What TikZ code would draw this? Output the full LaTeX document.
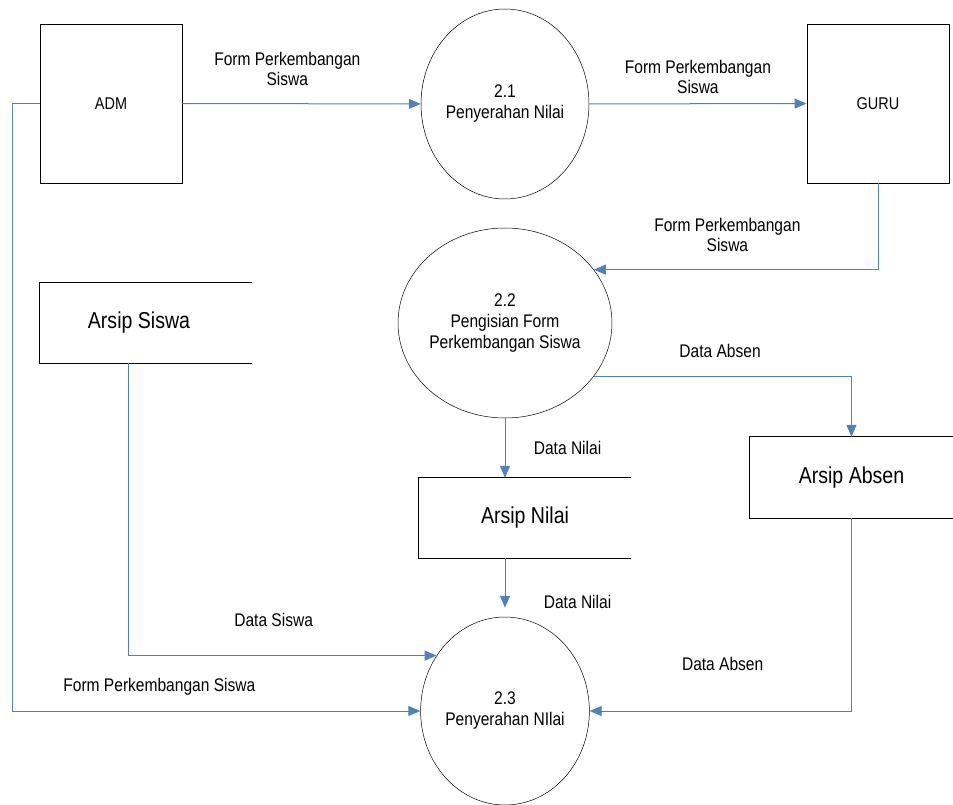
\documentclass[tikz,border=0pt]{standalone}
\usepackage{fontspec}
\setmainfont[FakeStretch=0.85]{Liberation Sans}
\usepackage{tikz}
\usetikzlibrary{calc,arrows.meta,shapes.geometric}
\definecolor{garis}{RGB}{79,129,189}
\tikzset{
  entitas/.style={draw,line width=0.9pt,minimum width=142pt,minimum height=159pt,inner sep=0pt,font=\fontsize{17}{20}\selectfont},
  proses/.style={draw,ellipse,line width=0.5pt,minimum width=168pt,minimum height=190pt,inner sep=0pt,align=center,font=\fontsize{18.3}{21}\selectfont},
  arsip/.style={minimum width=212pt,minimum height=80pt,inner sep=0pt,font=\fontsize{23}{24}\selectfont},
  alir/.style={garis,line width=1pt,-{Triangle[length=12pt,width=10pt]}},
  ket/.style={align=center,text=black,font=\fontsize{18.3}{20}\selectfont},
}
\begin{document}
\begin{tikzpicture}[x=1pt,y=-1pt]
        \useasboundingbox (0,0) rectangle (953,805);

        % entitas luar
        \node[entitas] (adm) at (111,103.5) {ADM};
        \node[entitas] (guru) at (878,103.5) {GURU};

        % proses
        \node[proses] (p21) at (505,104) {2.1\\Penyerahan Nilai};
        \node[proses] (p22) at (505,323) {2.2\\Pengisian Form\\Perkembangan Siswa};
        \node[proses,minimum height=188pt] (p23) at (505,711) {2.3\\Penyerahan NIlai};

        % data store (sisi kanan terbuka)
        \node[arsip] (aSiswa) at (146,323) {\hspace*{-14pt}Arsip Siswa};
        \draw[line width=0.9pt] (aSiswa.north east) -- (aSiswa.north west) -- (aSiswa.south west) -- (aSiswa.south east);
        \node[arsip] (aNilai) at (525,518) {Arsip Nilai};
        \draw[line width=0.9pt] (aNilai.north east) -- (aNilai.north west) -- (aNilai.south west) -- (aNilai.south east);
        \node[arsip,minimum width=203pt,minimum height=81pt] (aAbsen) at (851.5,477.5) {Arsip Absen};
        \draw[line width=0.9pt] (aAbsen.north east) -- (aAbsen.north west) -- (aAbsen.south west) -- (aAbsen.south east);

        % aliran data
        \draw[alir] (adm) -- node[ket,pos=.44,above=14pt] {Form Perkembangan\\Siswa} (p21);
        \draw[alir] (p21) -- node[ket,above=6pt] {Form Perkembangan\\Siswa} (guru);
        \draw[alir] (guru.south) |- node[ket,pos=.765,above=14pt] {Form Perkembangan\\Siswa} (p22.31);
        \draw[alir] (p22.-31) -| node[ket,pos=.245,above=15pt] {Data Absen} (aAbsen.north);
        \draw[alir] (p22.south) -- node[ket,right=25pt] {Data Nilai} (p22.south |- aNilai.north);
        \draw[alir,shorten >=9pt] (aNilai.south -| p22.south) -- node[ket,pos=.74,right=35pt] {Data Nilai} (p23.north);
        \draw[alir] ([xshift=-18pt]aSiswa.south) |- node[ket,pos=.736,above=25pt] {Data Siswa} (p23.141);
        \draw[alir] (adm.west) -- ++(-27,0) |- node[ket,pos=.68,above=12pt] {Form Perkembangan Siswa} (p23.west);
        \draw[alir] (aAbsen.south) |- node[ket,pos=.746,above=36pt] {Data Absen} (p23.east);

\end{tikzpicture}
\end{document}
